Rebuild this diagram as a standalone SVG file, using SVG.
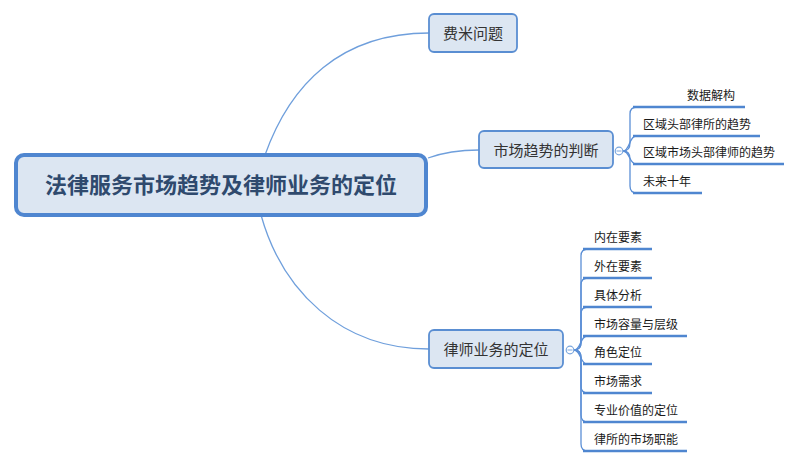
<svg xmlns="http://www.w3.org/2000/svg" width="800" height="466" viewBox="0 0 800 466">
<style>
text{font-family:"Noto Sans CJK SC","Noto Sans",sans-serif;}
.conn{fill:none;stroke:#6f9fdc;stroke-width:1.3;}
.sub{fill:none;stroke:#5b8fd6;stroke-width:1.3;}
.ul{stroke:#4f86d0;stroke-width:2.6;stroke-linecap:butt;}
.box{fill:#dce6f2;stroke:#5a8ed2;stroke-width:1.8;}
.main{font-size:15px;fill:#333;text-anchor:middle;}
.leaf{font-size:12px;fill:#1a1a1a;}
.col{fill:#fff;stroke:#7aa6de;stroke-width:1.2;}
</style>
<g id="connectors">
<path class="conn" d="M265,155 C290,85 340,33 429,33"/>
<path class="conn" d="M428,158 Q450,150 479,150"/>
<path class="conn" d="M261,215 C282,290 340,349 429,349"/>
<path class="sub" d="M623,151 Q630,151 630,143 L630,114 Q630,107 637,107"/>
<path class="sub" d="M623,151 C630,151 629,136 636,136"/>
<path class="sub" d="M623,151 C630,151 629,164 636,164"/>
<path class="sub" d="M623,151 Q630,151 630,159 L630,186 Q630,193 637,193"/>
<path class="sub" d="M574,350 Q581,350 581,342 L581,256 Q581,249 588,249"/>
<path class="sub" d="M574,350 Q581,350 581,342 L581,285 Q581,278 588,278"/>
<path class="sub" d="M574,350 Q581,350 581,342 L581,314 Q581,307 588,307"/>
<path class="sub" d="M574,350 C581,350 580,336 587,336"/>
<path class="sub" d="M574,350 C581,350 580,364 587,364"/>
<path class="sub" d="M574,350 Q581,350 581,358 L581,386 Q581,393 588,393"/>
<path class="sub" d="M574,350 Q581,350 581,358 L581,415 Q581,422 588,422"/>
<path class="sub" d="M574,350 Q581,350 581,358 L581,444 Q581,451 588,451"/>
</g>
<g id="root">
<rect x="16" y="155" width="410" height="60" rx="8" fill="#dce6f2" stroke="#4f86d0" stroke-width="4"/>
<text x="221" y="193" text-anchor="middle" font-size="22" font-weight="bold" fill="#2f4a6e">法律服务市场趋势及律师业务的定位</text>
</g>
<g id="n-feimi">
<rect class="box" x="429" y="14" width="88" height="38" rx="5"/>
<text class="main" x="473" y="38.5">费米问题</text>
</g>
<g id="n-trend">
<rect class="box" x="479" y="131" width="134" height="37" rx="5"/>
<text class="main" x="546" y="155.5">市场趋势的判断</text>
<circle class="col" cx="619" cy="151" r="3.8"/>
<line x1="616.5" y1="151" x2="621.5" y2="151" stroke="#7aa6de" stroke-width="1"/>
</g>
<g id="t1"><line class="ul" x1="633" y1="107" x2="745" y2="107"/><text class="leaf" x="687" y="99.5">数据解构</text></g>
<g id="t2"><line class="ul" x1="633" y1="136" x2="760" y2="136"/><text class="leaf" x="643" y="128.5">区域头部律所的趋势</text></g>
<g id="t3"><line class="ul" x1="633" y1="164" x2="784" y2="164"/><text class="leaf" x="643" y="156.5">区域市场头部律师的趋势</text></g>
<g id="t4"><line class="ul" x1="633" y1="193" x2="702" y2="193"/><text class="leaf" x="643" y="185.5">未来十年</text></g>
<g id="n-position">
<rect class="box" x="429" y="330" width="134" height="38" rx="5"/>
<text class="main" x="496" y="355">律师业务的定位</text>
<circle class="col" cx="570" cy="350" r="3.8"/>
<line x1="567.5" y1="350" x2="572.5" y2="350" stroke="#7aa6de" stroke-width="1"/>
</g>
<g id="p1"><line class="ul" x1="583" y1="249" x2="652" y2="249"/><text class="leaf" x="594" y="241.5">内在要素</text></g>
<g id="p2"><line class="ul" x1="583" y1="278" x2="652" y2="278"/><text class="leaf" x="594" y="270.5">外在要素</text></g>
<g id="p3"><line class="ul" x1="583" y1="307" x2="652" y2="307"/><text class="leaf" x="594" y="299.5">具体分析</text></g>
<g id="p4"><line class="ul" x1="583" y1="336" x2="687" y2="336"/><text class="leaf" x="594" y="328.5">市场容量与层级</text></g>
<g id="p5"><line class="ul" x1="583" y1="364" x2="652" y2="364"/><text class="leaf" x="594" y="356.5">角色定位</text></g>
<g id="p6"><line class="ul" x1="583" y1="393" x2="652" y2="393"/><text class="leaf" x="594" y="385.5">市场需求</text></g>
<g id="p7"><line class="ul" x1="583" y1="422" x2="687" y2="422"/><text class="leaf" x="594" y="414.5">专业价值的定位</text></g>
<g id="p8"><line class="ul" x1="583" y1="451" x2="687" y2="451"/><text class="leaf" x="594" y="443.5">律所的市场职能</text></g>
</svg>
